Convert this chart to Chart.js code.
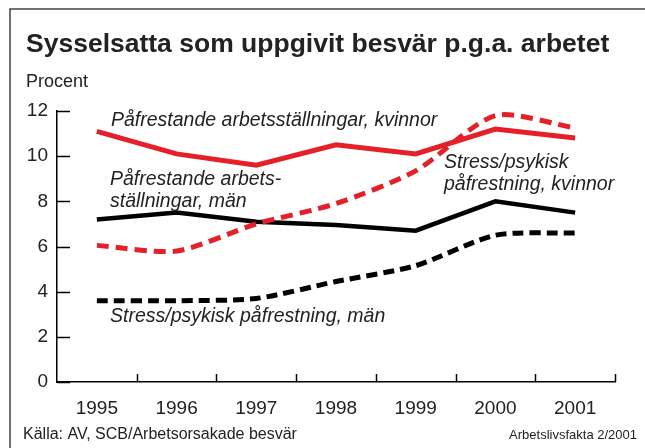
<!DOCTYPE html>
<html>
<head>
<meta charset="utf-8">
<script src="https://cdn.jsdelivr.net/npm/chart.js@4.4.0/dist/chart.umd.min.js"></script>
<style>
  html, body { margin: 0; padding: 0; background: #fff; }
  #wrap { width: 645px; height: 448px; position: relative; }
</style>
</head>
<body>
<div id="wrap"><canvas id="myChart" width="645" height="448"></canvas></div>
<script>
// data
var years = ['1995', '1996', '1997', '1998', '1999', '2000', '2001'];
var yTicks = [0, 2, 4, 6, 8, 10, 12];
var armKvinnor = [11.1, 10.1, 9.6, 10.5, 10.1, 11.2, 10.8];
var stressKvinnor = [6.05, 5.8, 7.0, 7.9, 9.35, 11.8, 11.25];
var armMan = [7.2, 7.5, 7.1, 6.95, 6.7, 8.0, 7.5];
var stressMan = [3.6, 3.6, 3.7, 4.45, 5.15, 6.5, 6.6];

var RED = '#e52028';
var FONT = '"Liberation Sans", Arial, Helvetica, sans-serif';

// texts, frame, inner tick marks
var decorPlugin = {
  id: 'decor',
  beforeDraw: function (chart) {
    var ctx = chart.ctx;
    ctx.save();
    ctx.fillStyle = '#fff';
    ctx.fillRect(0, 0, chart.width, chart.height);
    // frame (top and left only)
    ctx.strokeStyle = '#444';
    ctx.lineWidth = 1.5;
    ctx.beginPath();
    ctx.moveTo(10, chart.height);
    ctx.lineTo(10, 9);
    ctx.lineTo(chart.width, 9);
    ctx.stroke();
    ctx.restore();
  },
  afterDraw: function (chart) {
    var ctx = chart.ctx;
    var area = chart.chartArea;
    var ys = chart.scales.y;
    ctx.save();
    ctx.strokeStyle = '#000';
    ctx.lineWidth = 1.5;
    // y tick marks pointing right
    yTicks.forEach(function (v) {
      var y = Math.round(ys.getPixelForValue(v)) + 0.5;
      ctx.beginPath();
      ctx.moveTo(area.left, y);
      ctx.lineTo(area.left + 13, y);
      ctx.stroke();
    });
    // x tick marks between years, pointing up
    var band = (area.right - area.left) / years.length;
    for (var i = 1; i <= years.length; i++) {
      var x = Math.round(area.left + band * i) + 0.5;
      ctx.beginPath();
      ctx.moveTo(x, area.bottom);
      ctx.lineTo(x, area.bottom - 8);
      ctx.stroke();
    }

    ctx.fillStyle = '#222';
    ctx.textBaseline = 'middle';
    ctx.textAlign = 'left';
    ctx.font = 'bold 26.5px ' + FONT;
    ctx.fillText('Sysselsatta som uppgivit besvär p.g.a. arbetet', 26, 45);
    ctx.font = '18px ' + FONT;
    ctx.fillText('Procent', 26, 82);

    // series labels
    ctx.font = 'italic 19.5px ' + FONT;
    ctx.fillText('Påfrestande arbetsställningar, kvinnor', 111, 121);
    ctx.fillText('Påfrestande arbets-', 110, 180);
    ctx.fillText('ställningar, män', 110, 202);
    ctx.fillText('Stress/psykisk', 444, 163);
    ctx.fillText('påfrestning, kvinnor', 444, 185);
    ctx.fillText('Stress/psykisk påfrestning, män', 110, 317);

    // footer
    ctx.font = '16px ' + FONT;
    ctx.fillText('Källa: AV, SCB/Arbetsorsakade besvär', 23, 435);
    ctx.textAlign = 'right';
    ctx.font = '13px ' + FONT;
    ctx.fillText('Arbetslivsfakta 2/2001', 637, 435);
    ctx.restore();
  }
};

var ctx = document.getElementById('myChart').getContext('2d');
var myChart = new Chart(ctx, {
  type: 'line',
  data: {
    labels: years,
    datasets: [
      {
        label: 'Påfrestande arbetsställningar, kvinnor',
        data: armKvinnor,
        borderColor: RED,
        borderWidth: 5,
        tension: 0
      },
      {
        label: 'Stress/psykisk påfrestning, kvinnor',
        data: stressKvinnor,
        borderColor: RED,
        borderWidth: 5,
        borderDash: [12, 7],
        tension: 0.25
      },
      {
        label: 'Påfrestande arbetsställningar, män',
        data: armMan,
        borderColor: '#000',
        borderWidth: 4.5,
        tension: 0
      },
      {
        label: 'Stress/psykisk påfrestning, män',
        data: stressMan,
        borderColor: '#000',
        borderWidth: 5,
        borderDash: [11, 6],
        tension: 0.25
      }
    ]
  },
  options: {
    responsive: false,
    animation: false,
    layout: { padding: { top: 111, right: 30, left: 0, bottom: 0 } },
    elements: { point: { radius: 0 } },
    plugins: {
      legend: { display: false },
      tooltip: { enabled: false }
    },
    scales: {
      x: {
        type: 'category',
        offset: true,
        grid: { display: false, drawTicks: false },
        border: { display: true, color: '#000', width: 1.5 },
        ticks: {
          color: '#222',
          padding: 15,
          maxRotation: 0,
          font: { family: FONT, size: 19 }
        },
        afterFit: function (scale) { scale.height = 66; }
      },
      y: {
        min: 0,
        max: 12,
        grid: { display: false, drawTicks: false },
        border: { display: true, color: '#000', width: 1.5 },
        afterBuildTicks: function (scale) {
          scale.ticks = yTicks.map(function (v) { return { value: v }; });
        },
        ticks: {
          color: '#222',
          padding: 9,
          font: { family: FONT, size: 19 }
        },
        afterFit: function (scale) { scale.width = 57; }
      }
    }
  },
  plugins: [decorPlugin]
});
</script>
</body>
</html>
